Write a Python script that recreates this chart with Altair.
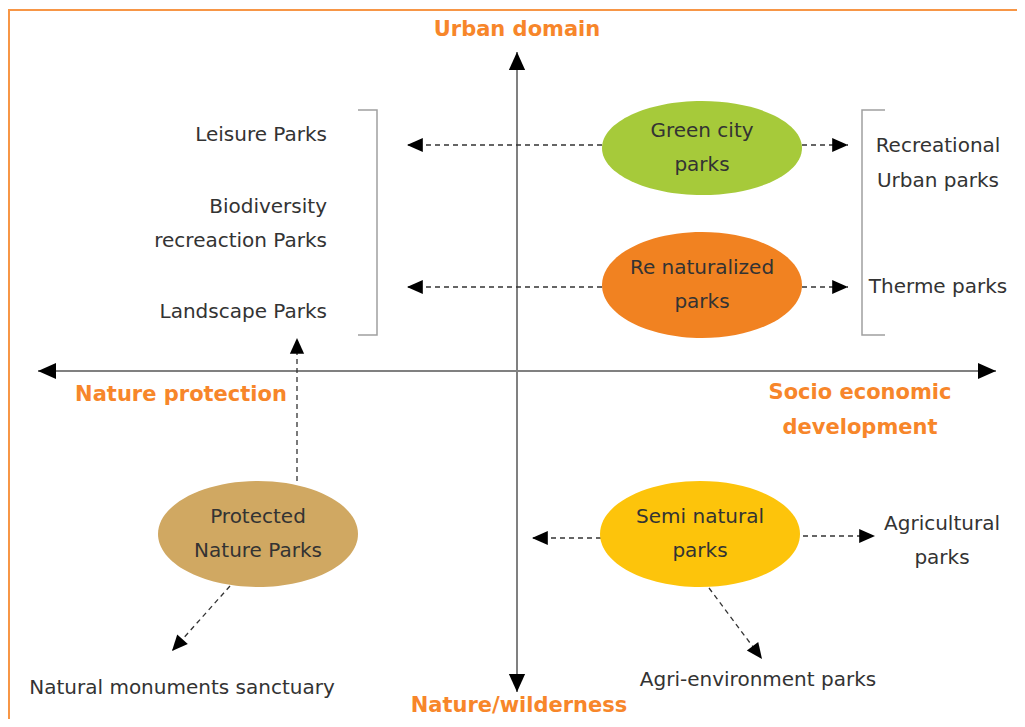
import altair as alt
import pandas as pd
import math

# ---------------- data (image pixel coordinates) ----------------
# ellipses
ell_line1 = ["Green city", "Re naturalized", "Protected", "Semi natural"]
ell_line2 = ["parks", "parks", "Nature Parks", "parks"]
ell_x = [702, 702, 258, 700]
ell_y = [148, 285, 534, 534]
ell_ratio = ["g", "o", "o", "o"]
ell_color = ["#a6ca3a", "#f18221", "#d0a862", "#fdc40b"]

# plain gray labels
lab_text = ["Leisure Parks", "Biodiversity", "recreaction Parks", "Landscape Parks",
            "Recreational", "Urban parks", "Therme parks",
            "Agricultural", "parks", "Agri-environment parks",
            "Natural monuments sanctuary"]
lab_x = [327, 327, 327, 327, 938, 938, 938, 942, 942, 758, 182]
lab_y = [135, 207, 241, 312, 146, 181, 287, 524, 558, 680, 688]
lab_align = ["right", "right", "right", "right", "center", "center", "center",
             "center", "center", "center", "center"]

# orange axis titles
ttl_text = ["Urban domain", "Nature/wilderness", "Nature protection",
            "Socio economic", "development"]
ttl_x = [517, 519, 181, 860, 860]
ttl_y = [30, 706, 395, 393, 428]

# solid axes (start -> tip)
ax_x1 = [517, 517, 517, 517]
ax_y1 = [371, 371, 371, 371]
ax_x2 = [517, 517, 38, 996]
ax_y2 = [52, 692, 371, 371]

# dashed arrows (start -> tip)
da_x1 = [602, 802, 602, 802, 297, 230, 601, 803, 709]
da_y1 = [145, 145, 287, 287, 481, 586, 538, 536, 588]
da_x2 = [407, 848, 407, 848, 297, 172, 532, 875, 762]
da_y2 = [145, 145, 287, 287, 338, 651, 538, 536, 659]

# brackets (polylines)
br_id = ["L", "L", "L", "L", "R", "R", "R", "R"]
br_x = [358, 377, 377, 358, 885, 862, 862, 885]
br_y = [110, 110, 335, 335, 110, 110, 335, 335]
br_ord = [0, 1, 2, 3, 0, 1, 2, 3]

W, H = 1009, 711
X0, Y0 = 8, 8
xs = alt.Scale(domain=[X0, X0 + W], nice=False, zero=False)
ys = alt.Scale(domain=[Y0, Y0 + H], nice=False, zero=False, reverse=True)
FONT = "DejaVu Sans"
GRAY = "#333333"
ORANGE = "#f7862a"
FS = 20


def ellipse_path(r):
    k = 0.5523
    return (f"M -1 0 C -1 {-k*r:.4f} {-k:.4f} {-r} 0 {-r} "
            f"C {k:.4f} {-r} 1 {-k*r:.4f} 1 0 "
            f"C 1 {k*r:.4f} {k:.4f} {r} 0 {r} "
            f"C {-k:.4f} {r} -1 {k*r:.4f} -1 0 Z")


ARROW = "M 0 0 L 0.45 1 L -0.45 1 Z"


def angle(x1, y1, x2, y2):
    return math.degrees(math.atan2(x2 - x1, -(y2 - y1))) % 360


X = lambda f: alt.X(f, scale=xs, axis=None)
Y = lambda f: alt.Y(f, scale=ys, axis=None)

# border
border_df = pd.DataFrame({"x": [9], "x2": [1019], "y": [10], "y2": [760]})
border = alt.Chart(border_df).mark_rect(fill=None, stroke="#f79646", strokeWidth=2).encode(
    x=X("x:Q"), x2="x2", y=Y("y:Q"), y2="y2")

# ellipses
ell_df = pd.DataFrame({"x": ell_x, "y": ell_y, "c": ell_color, "r": ell_ratio,
                       "l1": ell_line1, "l2": ell_line2})
ellipses = alt.Chart(ell_df).mark_point(filled=True, opacity=1, size=40000).encode(
    x=X("x:Q"), y=Y("y:Q"),
    color=alt.Color("c:N", scale=None),
    shape=alt.Shape("r:N", scale=alt.Scale(domain=["g", "o"],
                                           range=[ellipse_path(0.47), ellipse_path(0.53)]),
                    legend=None))
ell_t1 = alt.Chart(ell_df).mark_text(font=FONT, fontSize=FS, color=GRAY, dy=-17).encode(
    x=X("x:Q"), y=Y("y:Q"), text="l1:N")
ell_t2 = alt.Chart(ell_df).mark_text(font=FONT, fontSize=FS, color=GRAY, dy=17).encode(
    x=X("x:Q"), y=Y("y:Q"), text="l2:N")

# gray labels
lab_df = pd.DataFrame({"x": lab_x, "y": lab_y, "t": lab_text, "a": lab_align})
labs_r = alt.Chart(lab_df[lab_df.a == "right"]).mark_text(
    font=FONT, fontSize=FS, color=GRAY, align="right").encode(x=X("x:Q"), y=Y("y:Q"), text="t:N")
labs_c = alt.Chart(lab_df[lab_df.a == "center"]).mark_text(
    font=FONT, fontSize=FS, color=GRAY, align="center").encode(x=X("x:Q"), y=Y("y:Q"), text="t:N")

# titles
ttl_df = pd.DataFrame({"x": ttl_x, "y": ttl_y, "t": ttl_text})
titles = alt.Chart(ttl_df).mark_text(font=FONT, fontSize=21, fontWeight="bold",
                                     color=ORANGE).encode(x=X("x:Q"), y=Y("y:Q"), text="t:N")

# axes
ax_df = pd.DataFrame({"x": ax_x1, "y": ax_y1, "x2": ax_x2, "y2": ax_y2})
ax_df["ang"] = [angle(a, b, c, d) for a, b, c, d in zip(ax_x1, ax_y1, ax_x2, ax_y2)]
axes = alt.Chart(ax_df).mark_rule(color="#808080", strokeWidth=2).encode(
    x=X("x:Q"), y=Y("y:Q"), x2="x2", y2="y2")
ax_heads = alt.Chart(ax_df).mark_point(shape=ARROW, filled=True, opacity=1, color="black",
                                       size=1300).encode(
    x=X("x2:Q"), y=Y("y2:Q"), angle=alt.Angle("ang:Q", scale=None))

# dashed arrows
da_df = pd.DataFrame({"x": da_x1, "y": da_y1, "x2": da_x2, "y2": da_y2})
da_df["ang"] = [angle(a, b, c, d) for a, b, c, d in zip(da_x1, da_y1, da_x2, da_y2)]
dashes = alt.Chart(da_df).mark_rule(color="#333333", strokeWidth=1.3, strokeDash=[5, 4]).encode(
    x=X("x:Q"), y=Y("y:Q"), x2="x2", y2="y2")
da_heads = alt.Chart(da_df).mark_point(shape=ARROW, filled=True, opacity=1, color="black",
                                       size=1000).encode(
    x=X("x2:Q"), y=Y("y2:Q"), angle=alt.Angle("ang:Q", scale=None))

# brackets
br_df = pd.DataFrame({"id": br_id, "x": br_x, "y": br_y, "o": br_ord})
brackets = alt.Chart(br_df).mark_line(color="#a0a0a0", strokeWidth=1.5).encode(
    x=X("x:Q"), y=Y("y:Q"), detail="id:N", order="o:Q")

chart = alt.layer(border, axes, ax_heads, dashes, da_heads, brackets, ellipses,
                  ell_t1, ell_t2, labs_r, labs_c, titles).properties(
    width=W, height=H, autosize=alt.AutoSizeParams(type="none"), padding=0
).configure_view(stroke=None)

chart.save("out.html", embed_options={"renderer": "svg", "actions": False})
